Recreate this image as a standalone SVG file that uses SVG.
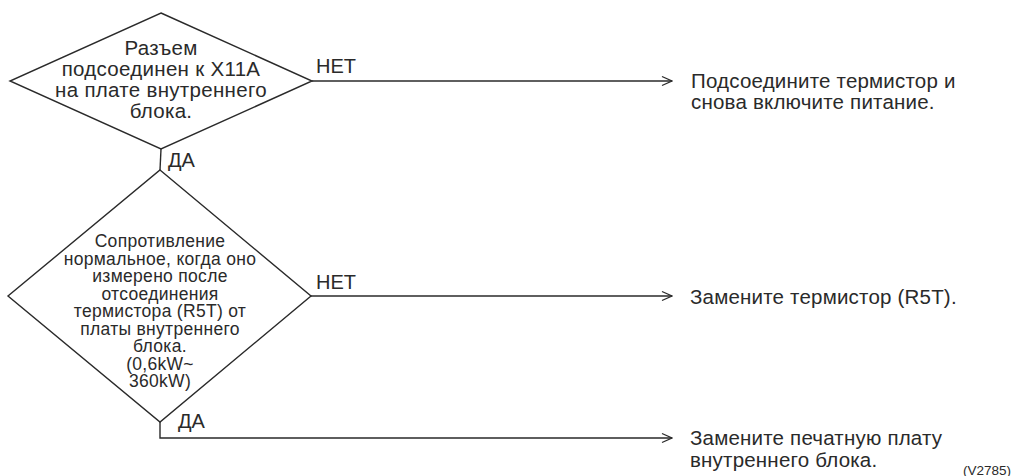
<svg xmlns="http://www.w3.org/2000/svg" width="1012" height="476" viewBox="0 0 1012 476">
<style>
.s{fill:none;stroke:#2a2a2a;stroke-width:1.4}
.t{font-family:"Liberation Sans",Arial,sans-serif;fill:#2a2a2a;font-size:20px}
.c{text-anchor:middle}
.w{font-size:20.5px;letter-spacing:0.3px}
.r{font-size:20.5px;letter-spacing:0.2px}
.m{font-size:17.5px;letter-spacing:0.3px}
.v{font-size:13.5px}
</style>
<defs>
<marker id="ah" viewBox="0 0 12 12" refX="11" refY="6" markerWidth="12" markerHeight="12" markerUnits="userSpaceOnUse" orient="auto">
<path d="M1,1.5 L11,6 L1,10.5" fill="none" stroke="#2a2a2a" stroke-width="1.3"/>
</marker>
</defs>
<rect width="1012" height="476" fill="#fff"/>
<g id="connectors">
<line class="s" x1="312" y1="81" x2="672" y2="81" marker-end="url(#ah)"/>
<line class="s" x1="161" y1="149" x2="160" y2="170"/>
<line class="s" x1="311" y1="296" x2="672" y2="296" marker-end="url(#ah)"/>
<polyline class="s" points="160,422 160,438 672,438" marker-end="url(#ah)"/>
<text class="t" x="316" y="73">НЕТ</text>
<text class="t" x="168" y="167">ДА</text>
<text class="t" x="316" y="289">НЕТ</text>
<text class="t" x="178" y="428">ДА</text>
</g>
<g id="d1">
<polygon class="s" points="161,13 312,81 161,149 10,81"/>
<text class="t c w" x="161" y="55">Разъем</text>
<text class="t c w" x="161" y="76">подсоединен к X11A</text>
<text class="t c w" x="161" y="97">на плате внутреннего</text>
<text class="t c w" x="161" y="118">блока.</text>
</g>
<g id="d2">
<polygon class="s" points="160,170 311,296 160,422 8,296"/>
<text class="t c m" x="160" y="247">Сопротивление</text>
<text class="t c m" x="160" y="264.5">нормальное, когда оно</text>
<text class="t c m" x="160" y="282">измерено после</text>
<text class="t c m" x="160" y="299.5">отсоединения</text>
<text class="t c m" x="160" y="317">термистора (R5T) от</text>
<text class="t c m" x="160" y="334.5">платы внутреннего</text>
<text class="t c m" x="160" y="352">блока.</text>
<text class="t c m" x="160" y="369.5">(0,6kW~</text>
<text class="t c m" x="160" y="387">360kW)</text>
</g>
<g id="r1">
<text class="t r" x="691" y="88">Подсоедините термистор и</text>
<text class="t r" x="691" y="109">снова включите питание.</text>
</g>
<g id="r2">
<text class="t r" x="690" y="304">Замените термистор (R5T).</text>
</g>
<g id="r3">
<text class="t r" x="690" y="445">Замените печатную плату</text>
<text class="t r" x="690" y="467">внутреннего блока.</text>
</g>
<text class="t v" x="1011" y="475" text-anchor="end">(V2785)</text>
</svg>
